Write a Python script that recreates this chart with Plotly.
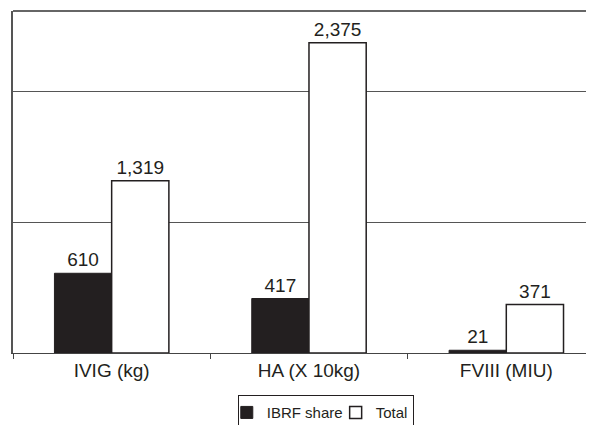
import plotly.graph_objects as go

categories = ["IVIG (kg)", "HA (X 10kg)", "FVIII (MIU)"]
ibrf_share = [610, 417, 21]
total = [1319, 2375, 371]
series_names = ["IBRF share", "Total"]

INK = "#231f20"
FONT = "Liberation Sans, Arial, sans-serif"

fig = go.Figure()
fig.add_trace(go.Bar(
    x=categories, y=ibrf_share, name=series_names[0],
    marker=dict(color=INK, line=dict(color=INK, width=1)),
    texttemplate="%{y:,}", textposition="outside",
    textfont=dict(family=FONT, size=19, color=INK),
    cliponaxis=False,
))
fig.add_trace(go.Bar(
    x=categories, y=total, name=series_names[1],
    marker=dict(color="white", line=dict(color=INK, width=1.5)),
    texttemplate="%{y:,}", textposition="outside",
    textfont=dict(family=FONT, size=19, color=INK),
    cliponaxis=False,
))

fig.update_layout(
    width=594, height=425,
    margin=dict(l=4.5, r=0, t=3, b=80),
    paper_bgcolor="white", plot_bgcolor="white",
    barmode="group", bargap=0.42, bargroupgap=0,
    font=dict(family=FONT, color=INK),
    showlegend=True,
    legend=dict(
        orientation="h", xref="container", yref="container",
        x=0.535, xanchor="center", y=0.089, yanchor="top",
        bordercolor=INK, borderwidth=1,
        font=dict(family=FONT, size=15, color=INK),
        itemwidth=30, indentation=-12, traceorder="normal",
    ),
    xaxis=dict(
        type="category", range=[-0.5, 2.485],
        tickson="boundaries", ticks="outside", ticklen=5, tickcolor="#444",
        showline=True, linecolor="#444", linewidth=1.2,
        tickfont=dict(family=FONT, size=19, color=INK),
        showgrid=False, zeroline=False,
    ),
    yaxis=dict(
        range=[0, 2617], dtick=1000, showticklabels=False, ticks="",
        showgrid=True, gridcolor="#555", gridwidth=1.2,
        showline=True, linecolor="#555", linewidth=1.5,
        zeroline=False,
    ),
)
fig.add_shape(type="line", xref="paper", yref="paper", x0=0, x1=1, y0=1, y1=1,
              line=dict(color="#333", width=1.5))

fig.write_html("out.html")
